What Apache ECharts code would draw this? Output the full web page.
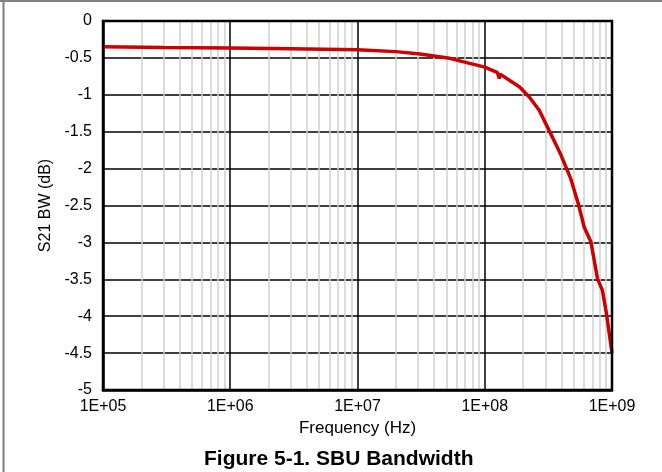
<!DOCTYPE html>
<html>
<head>
<meta charset="utf-8">
<script src="https://cdn.jsdelivr.net/npm/echarts@6/dist/echarts.min.js"></script>
<style>html,body{margin:0;padding:0;background:#fff}#c{width:662px;height:472px}</style>
</head>
<body>
<div id="c"></div>
<script>
const freqHz = [1e5, 3e5, 1e6, 3e6, 1e7, 2e7, 3.1e7, 5.3e7, 1e8, 1.26e8, 1.3e8, 1.32e8, 1.87e8, 2.24e8, 2.68e8, 3.39e8, 3.98e8, 4.75e8, 5.46e8, 6.04e8, 6.82e8, 7.69e8, 8.41e8, 9.04e8, 1e9];
const s21dB  = [-0.35, -0.36, -0.365, -0.375, -0.39, -0.415, -0.447, -0.506, -0.625, -0.70, -0.78, -0.72, -0.89, -1.03, -1.21, -1.57, -1.82, -2.14, -2.49, -2.79, -2.99, -3.49, -3.65, -3.96, -4.5];
const xTickLabels = {1e5: '1E+05', 1e6: '1E+06', 1e7: '1E+07', 1e8: '1E+08', 1e9: '1E+09'};
const minorMultipliers = [2, 3, 4, 5, 6, 7, 8, 9];
const decades = [1e5, 1e6, 1e7, 1e8];
const titleText = 'Figure 5-1. SBU Bandwidth';
const xName = 'Frequency (Hz)';
const yName = 'S21 BW (dB)';

const minorLines = [];
decades.forEach(d => minorMultipliers.forEach(m => minorLines.push({xAxis: d * m})));

const chart = echarts.init(document.getElementById('c'), null, {renderer: 'canvas'});
const font = 'Liberation Sans, Arial, sans-serif';
chart.setOption({
  animation: false,
  backgroundColor: '#fff',
  title: {
    text: titleText, left: 199, top: 444,
    textStyle: {fontFamily: font, fontWeight: 'bold', fontSize: 21, color: '#000'}
  },
  graphic: [
    {type: 'line', shape: {x1: 0, y1: 1, x2: 662, y2: 1}, style: {stroke: '#808080', lineWidth: 2}, silent: true},
    {type: 'line', shape: {x1: 3.5, y1: 0, x2: 3.5, y2: 472}, style: {stroke: '#808080', lineWidth: 2}, silent: true},
    {type: 'rect', shape: {x: 103, y: 21, width: 509, height: 369}, style: {fill: 'none', stroke: '#000', lineWidth: 2.5}, silent: true, z: 10}
  ],
  grid: {left: 103, top: 21, right: 50, bottom: 82, containLabel: false},
  xAxis: {
    type: 'log', logBase: 10, min: 1e5, max: 1e9,
    name: xName, nameLocation: 'middle', nameGap: 28,
    nameTextStyle: {fontFamily: font, fontSize: 17, color: '#000'},
    axisLine: {show: true, onZero: false, lineStyle: {color: '#000', width: 2.5}},
    axisTick: {show: false},
    axisLabel: {fontFamily: font, fontSize: 16, color: '#000', margin: 9,
      formatter: v => xTickLabels[Math.round(v)] || ''},
    splitLine: {show: true, lineStyle: {color: '#000', width: 1.5}}
  },
  yAxis: {
    type: 'value', min: -5, max: 0, interval: 0.5,
    name: yName, nameLocation: 'middle', nameGap: 49,
    nameTextStyle: {fontFamily: font, fontSize: 16, color: '#000'},
    axisLine: {show: true, onZero: false, lineStyle: {color: '#000', width: 2.5}},
    axisTick: {show: false},
    axisLabel: {fontFamily: font, fontSize: 16, color: '#000', margin: 11},
    splitLine: {show: true, lineStyle: {color: '#000', width: 1.5}}
  },
  series: [
    {
      type: 'line', silent: true, data: [],
      markLine: {
        silent: true, symbol: 'none', label: {show: false},
        lineStyle: {color: '#d0d0d0', width: 1.5, type: 'solid'},
        data: minorLines, animation: false
      },
      z: 1
    },
    {
      type: 'line', data: freqHz.map((f, i) => [f, s21dB[i]]),
      showSymbol: false, symbol: 'none',
      lineStyle: {color: '#cc0000', width: 3.5},
      z: 5
    }
  ]
});
</script>
</body>
</html>
